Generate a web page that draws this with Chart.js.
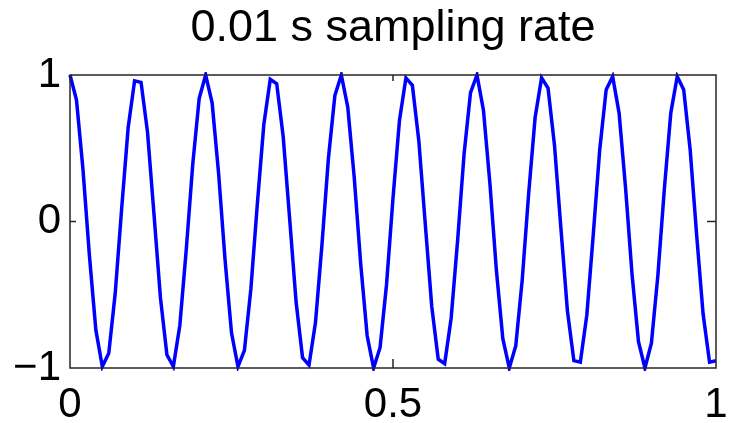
<!DOCTYPE html>
<html>
<head>
<meta charset="utf-8">
<script src="https://cdn.jsdelivr.net/npm/chart.js@4/dist/chart.umd.min.js"></script>
<style>
  html, body { margin: 0; padding: 0; background: #fff; }
  #chart { display: block; }
</style>
</head>
<body>
<canvas id="chart" width="729" height="423"></canvas>
<script>
// sample times (s), one every 0.01 s
const sampleTimes = [
  0.00, 0.01, 0.02, 0.03, 0.04, 0.05, 0.06, 0.07, 0.08, 0.09,
  0.10, 0.11, 0.12, 0.13, 0.14, 0.15, 0.16, 0.17, 0.18, 0.19,
  0.20, 0.21, 0.22, 0.23, 0.24, 0.25, 0.26, 0.27, 0.28, 0.29,
  0.30, 0.31, 0.32, 0.33, 0.34, 0.35, 0.36, 0.37, 0.38, 0.39,
  0.40, 0.41, 0.42, 0.43, 0.44, 0.45, 0.46, 0.47, 0.48, 0.49,
  0.50, 0.51, 0.52, 0.53, 0.54, 0.55, 0.56, 0.57, 0.58, 0.59,
  0.60, 0.61, 0.62, 0.63, 0.64, 0.65, 0.66, 0.67, 0.68, 0.69,
  0.70, 0.71, 0.72, 0.73, 0.74, 0.75, 0.76, 0.77, 0.78, 0.79,
  0.80, 0.81, 0.82, 0.83, 0.84, 0.85, 0.86, 0.87, 0.88, 0.89,
  0.90, 0.91, 0.92, 0.93, 0.94, 0.95, 0.96, 0.97, 0.98, 0.99,
  1.00, 1.01
];

const sampleValues = [
   1.00,  0.83,  0.36, -0.23, -0.74, -0.99, -0.90, -0.49,  0.09,  0.64,
   0.96,  0.95,  0.61,  0.05, -0.52, -0.91, -0.99, -0.71, -0.19,  0.39,
   0.84,  1.00,  0.81,  0.33, -0.26, -0.76, -0.99, -0.88, -0.46,  0.12,
   0.66,  0.97,  0.94,  0.58,  0.02, -0.55, -0.93, -0.98, -0.69, -0.16,
   0.43,  0.86,  1.00,  0.78,  0.30, -0.29, -0.78, -1.00, -0.86, -0.43,
   0.16,  0.69,  0.98,  0.93,  0.55, -0.02, -0.58, -0.94, -0.97, -0.66,
  -0.13,  0.46,  0.88,  1.00,  0.76,  0.26, -0.33, -0.80, -1.00, -0.85,
  -0.40,  0.19,  0.71,  0.98,  0.91,  0.52, -0.05, -0.61, -0.95, -0.96,
  -0.64, -0.09,  0.49,  0.90,  0.99,  0.74,  0.23, -0.36, -0.82, -1.00,
  -0.83, -0.37,  0.22,  0.74,  0.99,  0.90,  0.49, -0.09, -0.63, -0.96,
  -0.95, -0.61
];

const xTicks = [0, 0.5, 1];
const yTicks = [-1, 0, 1];
const titleText = '0.01 s sampling rate';

const FONT = "'Liberation Sans', Arial, sans-serif";

/**
 * Draws the white background, the axes box and the inward tick marks.
 */
const boxPlugin = {
    id: 'box',
    beforeDraw(chart) {
        const ctx = chart.ctx;
        ctx.save();
        ctx.fillStyle = '#ffffff';
        ctx.fillRect(0, 0, chart.width, chart.height);
        ctx.restore();
    },
    afterDatasetsDraw(chart) {
        const { ctx, chartArea: a, scales } = chart;
        ctx.save();
        ctx.strokeStyle = '#262626';
        ctx.lineWidth = 1.5;
        ctx.strokeRect(a.left, a.top, a.right - a.left, a.bottom - a.top);
        ctx.beginPath();
        xTicks.forEach(v => {
            if (v === xTicks[0] || v === xTicks[xTicks.length - 1]) return;
            const px = scales.x.getPixelForValue(v);
            ctx.moveTo(px, a.bottom); ctx.lineTo(px, a.bottom - 9);
            ctx.moveTo(px, a.top); ctx.lineTo(px, a.top + 6);
        });
        yTicks.forEach(v => {
            if (v === yTicks[0] || v === yTicks[yTicks.length - 1]) return;
            const py = scales.y.getPixelForValue(v);
            ctx.moveTo(a.left, py); ctx.lineTo(a.left + 6, py);
            ctx.moveTo(a.right, py); ctx.lineTo(a.right - 9, py);
        });
        ctx.stroke();
        ctx.restore();
    }
};

const ctx = document.getElementById('chart').getContext('2d');

new Chart(ctx, {
    type: 'line',
    data: {
        datasets: [{
            data: sampleTimes.map((t, i) => ({ x: t, y: sampleValues[i] })),
            borderColor: '#0000ff',
            borderWidth: 3.5,
            pointRadius: 0,
            tension: 0,
            fill: false,
            clip: { left: 3, top: 3, right: 3, bottom: 3 }
        }]
    },
    options: {
        responsive: false,
        animation: false,
        layout: {
            padding: { left: 4, right: 13, top: 0, bottom: 0 }
        },
        plugins: {
            legend: { display: false },
            tooltip: { enabled: false },
            title: {
                display: true,
                fullSize: false,
                text: titleText,
                color: '#000000',
                font: { family: FONT, size: 45, weight: 'normal' },
                padding: { top: 2, bottom: 19 }
            }
        },
        scales: {
            x: {
                type: 'linear',
                min: 0,
                max: 1,
                afterFit: scale => {
                    scale.height = 55;
                    scale.paddingLeft = 0;
                    scale.paddingRight = 0;
                },
                afterBuildTicks: scale => { scale.ticks = xTicks.map(v => ({ value: v })); },
                grid: { display: false, drawTicks: false },
                border: { display: false },
                ticks: {
                    color: '#000000',
                    font: { family: FONT, size: 42 },
                    padding: 12,
                    maxRotation: 0,
                    callback: v => String(v)
                }
            },
            y: {
                type: 'linear',
                min: -1,
                max: 1,
                afterFit: scale => {
                    scale.width = 66;
                    scale.paddingTop = 0;
                    scale.paddingBottom = 0;
                },
                afterBuildTicks: scale => { scale.ticks = yTicks.map(v => ({ value: v })); },
                grid: { display: false, drawTicks: false },
                border: { display: false },
                ticks: {
                    color: '#000000',
                    font: { family: FONT, size: 42 },
                    padding: 9,
                    callback: v => (v < 0 ? '\u2212' + Math.abs(v) : String(v))
                }
            }
        }
    },
    plugins: [boxPlugin]
});
</script>
</body>
</html>
